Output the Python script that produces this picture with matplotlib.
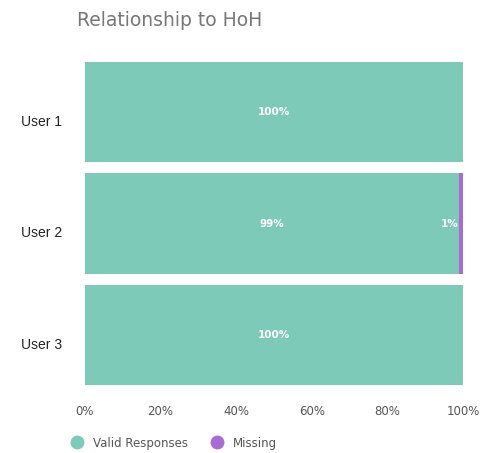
import matplotlib.pyplot as plt
from matplotlib.lines import Line2D
from matplotlib.transforms import ScaledTranslation

users = ['User 1', 'User 2', 'User 3']
valid = [100, 99, 100]
missing = [0, 1, 0]
x_ticks = [0, 20, 40, 60, 80, 100]

TEAL = '#7ecab9'
PURPLE = '#a86bd4'

fig = plt.figure(figsize=(4.81, 4.53), dpi=100)
ax = fig.add_axes([0.1767, 0.137, 0.786, 0.739])

ypos = list(range(len(users)))
ax.barh(ypos, valid, height=0.9, color=TEAL)
ax.barh(ypos, missing, left=valid, height=0.9, color=PURPLE)

for y, v, m in zip(ypos, valid, missing):
    ax.text(v / 2, y, f'{v}%', ha='center', va='center', color='white',
            fontsize=7.5, fontweight='bold')
    if m > 0:
        ax.text(v - 0.2, y, f'{m}%', ha='right', va='center', color='white',
                fontsize=7.5, fontweight='bold')

ax.set_xlim(0, 100)
ax.set_ylim(2.5, -0.5)
ax.set_yticks(ypos)
ax.set_yticklabels(users, fontsize=10, color='#222222', family='Liberation Sans')
ax.set_xticks(x_ticks)
ax.set_xticklabels([f'{t}%' for t in x_ticks], fontsize=8.5, color='#555555')
ax.tick_params(axis='both', length=0)
ax.tick_params(axis='y', pad=16.5)
ax.tick_params(axis='x', pad=10)
for s in ax.spines.values():
    s.set_visible(False)

# labels sit a little below the bar centres in the original
shift = ScaledTranslation(0, -6 / 72, fig.dpi_scale_trans)
for lbl in ax.get_yticklabels():
    lbl.set_transform(lbl.get_transform() + shift)

fig.text(0.16, 0.955, 'Relationship to HoH', fontsize=13.5, color='#777777',
         va='center', ha='left')

handles = [Line2D([], [], marker='o', linestyle='', markersize=9,
                  markerfacecolor=TEAL, markeredgecolor=TEAL),
           Line2D([], [], marker='o', linestyle='', markersize=9,
                  markerfacecolor=PURPLE, markeredgecolor=PURPLE)]
leg = fig.legend(handles, ['Valid Responses', 'Missing'], loc='center left',
                 bbox_to_anchor=(0.113, 0.022), ncol=2, frameon=False,
                 fontsize=8.5, handletextpad=0.4, columnspacing=1.4)
for t in leg.get_texts():
    t.set_color('#555555')

fig.savefig('out.png', dpi=100)
